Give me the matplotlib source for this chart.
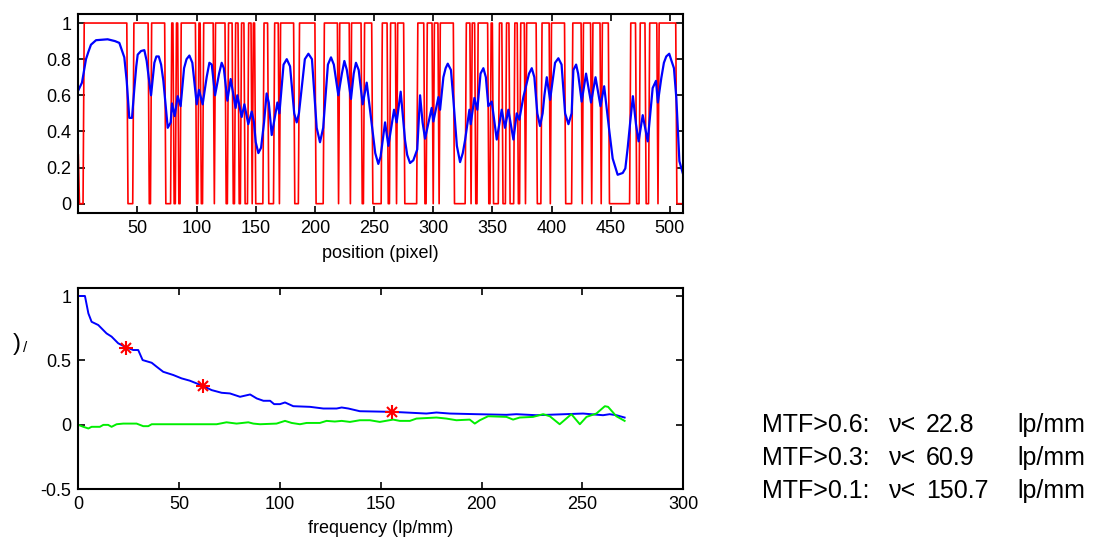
import numpy as np
import matplotlib
matplotlib.use('Agg')
import matplotlib.pyplot as plt

plt.rcParams['font.family'] = ['Liberation Sans', 'DejaVu Sans']
plt.rcParams['xtick.direction'] = 'in'
plt.rcParams['ytick.direction'] = 'in'

# --- top panel: edge profile (red) and measured response (blue) ---
n_pix = 512
red_first = 0.27
# runs of pixels where the red edge signal is 0 (start, end inclusive)
red_low = [(1, 4), (42, 46), (60, 61), (74, 78), (81, 82), (85, 86), (100, 101),
           (104, 105), (115, 115), (125, 126), (131, 132), (136, 137), (141, 143),
           (147, 147), (150, 156), (161, 165), (170, 170), (183, 186), (201, 207),
           (220, 220), (230, 230), (240, 241), (249, 256), (262, 263), (269, 269),
           (276, 286), (293, 294), (300, 300), (305, 305), (318, 327), (332, 332),
           (336, 337), (347, 348), (351, 355), (359, 361), (365, 368), (372, 373),
           (378, 378), (388, 391), (399, 399), (412, 417), (426, 426), (434, 434),
           (442, 442), (449, 466), (472, 474), (480, 482), (490, 490), (506, 511)]

blue_x = [0.2, 3.1, 6.5, 8.5, 10.7, 15.0, 24.8, 31.0, 34.7, 38.9, 40.9, 43.1, 45.4,
          47.4, 50.2, 55.8, 57.8, 61.5, 64.3, 68.0, 71.9, 75.6, 78.1, 79.2, 81.5,
          84.0, 86.5, 89.4, 93.9, 96.4, 100.1, 102.0, 105.1, 110.8, 115.6, 121.2,
          126.0, 128.8, 133.0, 134.4, 138.1, 140.4, 143.7, 146.6, 152.2, 159.2,
          163.5, 168.3, 170.0, 176.2, 184.6, 194.5, 204.3, 213.6, 219.8, 224.9,
          230.5, 234.7, 240.4, 243.8, 253.6, 259.3, 262.1, 266.9, 269.1, 272.5,
          276.2, 280.4, 283.2, 288.9, 293.1, 298.7, 300.1, 304.4, 305.8, 308.6,
          312.3, 317.0, 322.7, 326.9, 330.6, 331.7, 334.8, 337.3, 342.4, 346.6,
          349.5, 353.7, 357.9, 360.7, 363.5, 367.8, 370.6, 372.8, 376.2, 383.3,
          390.3, 396.0, 398.8, 405.8, 414.3, 420.8, 425.5, 429.2, 433.4, 437.2,
          441.4, 444.5, 448.9, 451.7, 455.9, 460.2, 462.4, 464.4, 468.8, 471.4,
          473.6, 477.1, 481.3, 485.5, 488.3, 489.9, 492.8, 497.0, 501.2, 505.5,
          508.1, 510.9,
          # shoulders around the rounded peaks and troughs
          49.0, 53.0, 59.5, 66.0, 70.0, 91.5, 108.5, 112.8, 119.0, 123.0,
          148.5, 150.0, 154.5, 157.0, 161.0, 173.5, 179.0, 182.5, 186.5, 191.5,
          197.5, 201.5, 207.0, 211.0, 216.0, 222.8, 227.0, 232.8, 237.0, 251.0,
          255.5, 278.0, 286.5, 291.0, 310.5, 315.0, 320.0, 325.0, 340.0, 344.5,
          381.0, 385.5, 388.0, 392.5, 394.0, 403.0, 408.5, 411.5, 417.0, 418.5,
          422.5, 466.5, 486.9, 495.0, 499.5, 503.5]
blue_y = [0.63, 0.67, 0.80, 0.84, 0.88, 0.905, 0.91, 0.90, 0.89, 0.81, 0.68, 0.475,
          0.475, 0.64, 0.825, 0.85, 0.79, 0.60, 0.78, 0.815, 0.68, 0.42, 0.45,
          0.555, 0.485, 0.595, 0.54, 0.75, 0.82, 0.78, 0.55, 0.63, 0.55, 0.78,
          0.60, 0.78, 0.57, 0.69, 0.53, 0.60, 0.48, 0.55, 0.44, 0.51, 0.28, 0.61,
          0.38, 0.56, 0.50, 0.80, 0.45, 0.83, 0.34, 0.81, 0.60, 0.79, 0.58, 0.78,
          0.55, 0.67, 0.22, 0.45, 0.32, 0.52, 0.45, 0.62, 0.35, 0.225, 0.24, 0.60,
          0.36, 0.53, 0.455, 0.59, 0.52, 0.70, 0.775, 0.58, 0.23, 0.35, 0.52, 0.44,
          0.585, 0.52, 0.75, 0.54, 0.565, 0.355, 0.52, 0.42, 0.52, 0.355, 0.50,
          0.465, 0.59, 0.75, 0.43, 0.70, 0.575, 0.805, 0.44, 0.77, 0.565, 0.72,
          0.56, 0.70, 0.54, 0.65, 0.40, 0.25, 0.16, 0.17, 0.195, 0.31, 0.595,
          0.44, 0.345, 0.49, 0.345, 0.64, 0.68, 0.56, 0.695, 0.815, 0.795, 0.585,
          0.235, 0.17,
          0.76, 0.845, 0.70, 0.815, 0.77, 0.80, 0.70, 0.77, 0.72, 0.75,
          0.45, 0.34, 0.31, 0.45, 0.56, 0.77, 0.76, 0.50, 0.50, 0.80,
          0.80, 0.42, 0.42, 0.77, 0.77, 0.72, 0.74, 0.72, 0.74, 0.28,
          0.26, 0.27, 0.30, 0.45, 0.75, 0.74, 0.32, 0.28, 0.72, 0.70,
          0.72, 0.70, 0.50, 0.50, 0.60, 0.78, 0.77, 0.50, 0.50, 0.74,
          0.72, 0.45, 0.66, 0.78, 0.83, 0.75]

# --- bottom panel: MTF (blue) and phase-like curve (green) ---
mtf_f = [0, 3.3, 5.0, 6.6, 9.9, 14.0, 16.5, 19.8, 23.1, 27.2, 29.7, 31.9, 36.4,
         38.8, 42.1, 47.1, 51.2, 55.3, 62.0, 66.1, 71.1, 75.2, 80.2, 85.2, 88.5,
         91.8, 95.1, 97.1, 100.0, 102.5, 106.6, 114.9, 121.5, 128.1, 130.6, 133.9,
         139.6, 156.1, 172.6, 177.6, 184.2, 197.4, 212.3, 217.2, 227.1, 250.3,
         260.2, 263.5, 266.8, 270.9]
mtf_v = [1.0, 1.0, 0.865, 0.80, 0.775, 0.71, 0.685, 0.633, 0.607, 0.581, 0.581,
         0.503, 0.482, 0.452, 0.412, 0.387, 0.361, 0.343, 0.301, 0.27, 0.249,
         0.244, 0.218, 0.236, 0.205, 0.187, 0.187, 0.161, 0.161, 0.174, 0.145,
         0.14, 0.127, 0.127, 0.135, 0.127, 0.106, 0.101, 0.088, 0.096, 0.088,
         0.083, 0.078, 0.083, 0.075, 0.088, 0.075, 0.083, 0.075, 0.057]

ph_f = [0, 2.5, 5.0, 6.6, 10.7, 12.4, 14.8, 16.5, 19.0, 22.3, 28.9, 32.2, 34.7,
        36.4, 68.6, 73.5, 78.5, 84.3, 86.8, 90.1, 98.3, 102.5, 105.8, 109.9,
        113.2, 119.8, 123.1, 127.2, 130.6, 134.7, 139.6, 144.6, 149.5, 156.1,
        159.4, 164.4, 167.7, 177.6, 182.5, 187.5, 194.1, 196.6, 199.1, 203.2,
        212.3, 215.6, 218.9, 225.5, 230.5, 233.8, 238.7, 244.5, 248.7, 252.0,
        256.9, 261.1, 262.7, 266.8, 270.9]
ph_v = [0, -0.015, -0.028, -0.015, -0.015, 0, 0, -0.015, 0.005, 0.01, 0.01, -0.01,
        -0.01, 0.005, 0.005, 0.02, 0.01, 0.02, 0.01, 0.005, 0.01, 0.031, 0.015,
        0.005, 0.015, 0.015, 0.031, 0.026, 0.031, 0.023, 0.036, 0.036, 0.023,
        0.041, 0.031, 0.031, 0.049, 0.057, 0.049, 0.036, 0.041, 0.01, 0.036,
        0.067, 0.062, 0.041, 0.057, 0.062, 0.083, 0.067, 0.005, 0.083, 0.005,
        0.062, 0.088, 0.145, 0.14, 0.067, 0.031]

mark_f = [23.5, 62.0, 155.5]
mark_v = [0.6, 0.3, 0.1]

thresholds = ['MTF>0.6:', 'MTF>0.3:', 'MTF>0.1:']
limit_vals = ['22.8', '60.9', '150.7']

# ==============================================================================
W, H = 1098, 539
fig = plt.figure(figsize=(W / 100, H / 100), dpi=100)
fs = 13


def style(ax):
    for s in ax.spines.values():
        s.set_linewidth(1.5)
    ax.tick_params(which='both', top=True, right=True, length=5, width=1.2,
                   labelsize=fs, pad=5)


ax1 = fig.add_axes([78.3 / W, 1 - 212.7 / H, 605 / W, 198.7 / H])
pos = np.arange(n_pix)
edge = np.ones(n_pix)
edge[0] = red_first
for a, b in red_low:
    edge[a:b + 1] = 0
ax1.plot(pos, edge, color='red', lw=1.2)
order = np.argsort(blue_x)
ax1.plot(np.array(blue_x)[order], np.array(blue_y)[order], color='blue', lw=1.6)
ax1.set_xlim(0, 511.4)
ax1.set_ylim(-0.05, 1.05)
ax1.set_xticks(range(50, 501, 50))
ax1.set_yticks([0, 0.2, 0.4, 0.6, 0.8, 1])
ax1.set_yticklabels(['0', '0.2', '0.4', '0.6', '0.8', '1'])
ax1.set_xlabel('position (pixel)', fontsize=fs, labelpad=6)
style(ax1)

ax2 = fig.add_axes([78.3 / W, 1 - 489.3 / H, 605 / W, 201 / H])
ax2.plot(mtf_f, mtf_v, color='blue', lw=1.4)
ax2.plot(ph_f, ph_v, color='#00ee00', lw=1.4)
ax2.plot(mark_f, mark_v, ls='none', marker='+', ms=10, mew=1.5, color='red')
ax2.plot(mark_f, mark_v, ls='none', marker='x', ms=7, mew=1.5, color='red')
ax2.set_xlim(0, 300)
ax2.set_ylim(-0.5, 1.06)
ax2.set_xticks(range(0, 301, 50))
ax2.set_yticks([-0.5, 0, 0.5, 1])
ax2.set_yticklabels(['-0.5', '0', '0.5', '1'])
ax2.set_xlabel('frequency (lp/mm)', fontsize=fs, labelpad=5)
style(ax2)

# clipped y label remnant
fig.text(13 / W, 1 - 344 / H, ')', fontsize=17, va='center', ha='left')
fig.text(23 / W, 1 - 348 / H, '/', fontsize=11, va='center', ha='left')

for i, (t, v) in enumerate(zip(thresholds, limit_vals)):
    yb = 1 - (431.7 + 33.3 * i) / H
    fig.text(761.5 / W, yb, t, fontsize=18, va='baseline', ha='left')
    fig.text(889 / W, yb, '\u03bd<', fontsize=18, va='baseline', ha='left')
    fig.text(926 / W, yb, v, fontsize=18, va='baseline', ha='left')
    fig.text(1085 / W, yb, 'lp/mm', fontsize=18, va='baseline', ha='right')

fig.savefig('out.png', dpi=100)
